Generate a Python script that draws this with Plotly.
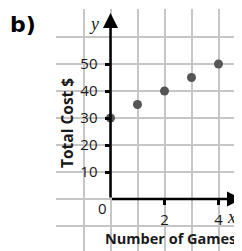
import plotly.graph_objects as go

# Data
games = [0, 1, 2, 3, 4]
total_cost = [30, 35, 40, 45, 50]
y_ticks = [10, 20, 30, 40, 50]
x_ticks = [2, 4]
x_title = "Number of Games"
y_title = "Total Cost $"

# The page body adds an 8px margin, so the figure is sized to the visible area
OFF = 8
W, H = 242 - OFF, 251 - OFF
X0PX = 110.5 - OFF          # pixel of x = 0
Y0PX = 199 - OFF            # pixel of y = 0
UNIT = 27.0                 # pixels per grid cell
X_RANGE = [-2.02, (W - X0PX) / UNIT]
Y_RANGE = [-(H - Y0PX) / UNIT * 10, 70.3]

fig = go.Figure()
fig.add_trace(go.Scatter(
    x=games, y=total_cost, mode="markers",
    marker=dict(size=9, color="#555555"),
    showlegend=False, hoverinfo="skip", cliponaxis=False,
))

gcol = "#c6c6c6"
grid = dict(showgrid=True, gridcolor=gcol, gridwidth=1.5)

x_left_px = X0PX + X_RANGE[0] * UNIT
y_top_px = Y0PX - Y_RANGE[1] / 10 * UNIT

fig.update_layout(
    width=W, height=H,
    margin=dict(l=0, r=0, t=0, b=0),
    paper_bgcolor="white", plot_bgcolor="white",
    font=dict(family="Open Sans", size=15, color="#1a1a1a"),
    xaxis=dict(
        domain=[x_left_px / W, 1], range=X_RANGE, anchor="free",
        position=(H - Y0PX) / H,
        tickmode="array", tickvals=x_ticks, ticktext=[str(v) for v in x_ticks],
        ticks="outside", ticklen=5, tickwidth=2.5, tickcolor="black",
        ticklabelstandoff=2,
        showline=False, zeroline=False, **grid,
        minor=dict(tickmode="array", tickvals=[-2, -1, 0, 1, 3], ticks="",
                   showgrid=True, gridcolor=gcol, gridwidth=1.5),
    ),
    yaxis=dict(
        domain=[0, (H - y_top_px) / H], range=Y_RANGE, anchor="free",
        position=X0PX / W,
        tickmode="array", tickvals=y_ticks, ticktext=[str(v) for v in y_ticks],
        ticks="outside", ticklen=6, tickwidth=2.5, tickcolor="black",
        ticklabelstandoff=4,
        showline=False, zeroline=False, **grid,
        minor=dict(tickmode="array", tickvals=[-10, 0, 60, 70], ticks="",
                   showgrid=True, gridcolor=gcol, gridwidth=1.5),
    ),
)

# Axis lines with arrows
fig.add_annotation(x=0, y=68.9, ax=0, ay=0, xref="x", yref="y", axref="x", ayref="y",
                   text="", showarrow=True, arrowhead=2, arrowsize=1.2,
                   arrowwidth=2.5, arrowcolor="black")
fig.add_annotation(x=X_RANGE[1], y=0, ax=0, ay=0, xref="x", yref="y", axref="x", ayref="y",
                   text="", showarrow=True, arrowhead=2, arrowsize=1.2,
                   arrowwidth=2.5, arrowcolor="black")

def px_ann(text, x, y, size=15, family="Open Sans", color="#1a1a1a", textangle=0, **kw):
    # x, y given in reference-screenshot pixels
    fig.add_annotation(text=text, x=(x - OFF) / W, y=1 - (y - OFF) / H,
                       xref="paper", yref="paper",
                       showarrow=False, xanchor="center", yanchor="middle",
                       textangle=textangle,
                       font=dict(size=size, family=family, color=color), **kw)

px_ann("<b>b)</b>", 23, 24, size=22, family="DejaVu Sans", color="black")
px_ann("<i>y</i>", 94, 24, size=18, family="Liberation Serif")
px_ann("<i>x</i>", 231, 217, size=18, family="Liberation Serif")
px_ann("0", 102, 208, size=15)
px_ann("<b>" + x_title + "</b>", 170, 238, size=14.5)
px_ann("<b>" + y_title + "</b>", 67, 123, size=15.5, textangle=-90)

fig.write_html("out.html")
